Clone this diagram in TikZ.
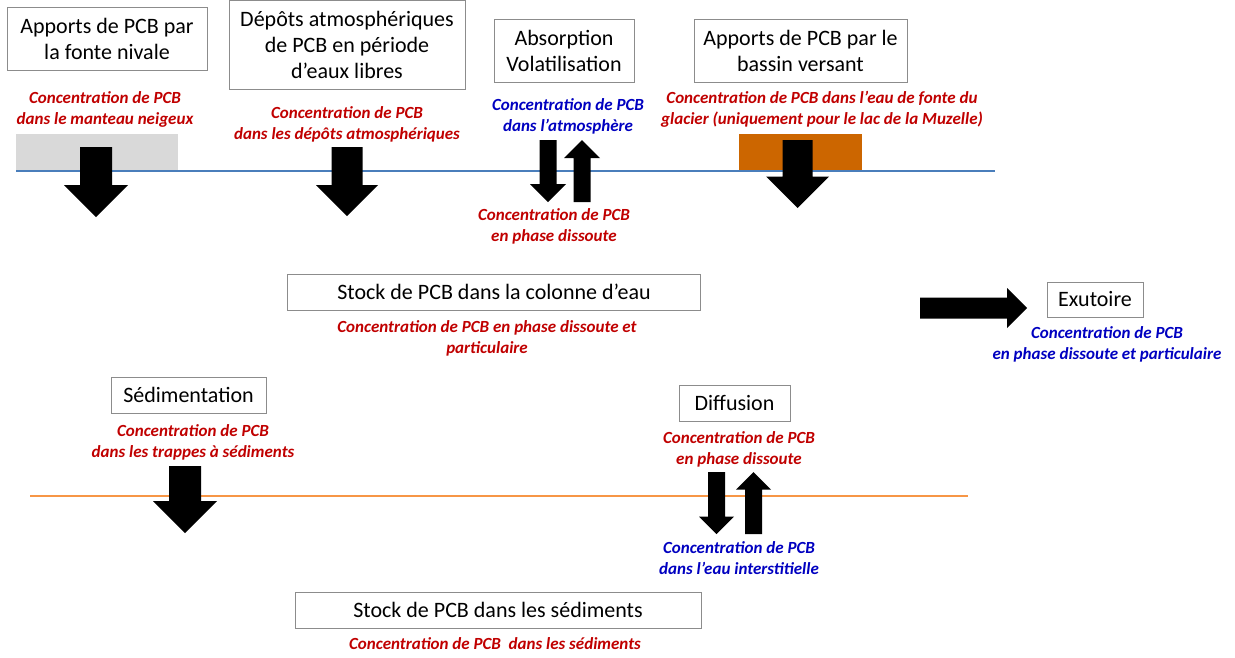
\documentclass[tikz,border=0pt]{standalone}
\usepackage{fontspec}
\setmainfont{Carlito}
\definecolor{lblred}{HTML}{C00000}
\definecolor{lblblue}{HTML}{0000C0}
\definecolor{waterline}{HTML}{4A7EBB}
\definecolor{sedline}{HTML}{F79646}
\definecolor{snowgray}{HTML}{D9D9D9}
\definecolor{glacier}{HTML}{CC6600}
\definecolor{boxgray}{HTML}{8C8C8C}
% vertical block arrow: x, y of tail, y of tip, head half-width, shaft half-width
\newcommand\blkvert[5]{%
  \pgfmathsetmacro\hl{(#3>#2) ? #4 : -#4}%
  \fill[black] ({#1-#5},#2) -- ({#1+#5},#2) -- ({#1+#5},{#3-\hl}) -- ({#1+#4},{#3-\hl})
    -- (#1,#3) -- ({#1-#4},{#3-\hl}) -- ({#1-#5},{#3-\hl}) -- cycle;}
\begin{document}
\begin{tikzpicture}[x=1pt,y=-1pt,
  procbox/.style={draw=boxgray, line width=1pt, align=center, inner sep=0pt,
    font=\fontsize{22}{26}\selectfont},
  redlbl/.style={text=lblred, align=center, inner sep=0pt, font=\fontsize{17}{21}\selectfont\bfseries\itshape},
  bluelbl/.style={redlbl, text=lblblue}]
\useasboundingbox (0,0) rectangle (1235,657);

% colored patches
\fill[snowgray] (16,134) rectangle (178,171);
\fill[glacier] (739,134) rectangle (862,171);
% interfaces
\draw[waterline, line width=2pt] (16,171) -- (995,171);
\draw[sedline, line width=2.5pt] (30,496) -- (968,496);

% boxes
\node[procbox, minimum width=200pt, minimum height=63pt] (b1) at (107,39) {Apports de PCB par\\la fonte nivale};
\node[procbox, minimum width=236pt, minimum height=89pt] (b2) at (347,45) {Dépôts atmosphériques\\de PCB en période\\d’eaux libres};
\node[procbox, minimum width=140pt, minimum height=63pt] (b3) at (564,50.5) {Absorption\\Volatilisation};
\node[procbox, minimum width=213pt, minimum height=63pt] (b4) at (800.5,50.5) {Apports de PCB par le\\bassin versant};
\node[procbox, minimum width=413pt, minimum height=36pt] (b5) at (494,292) {Stock de PCB dans la colonne d’eau};
\node[procbox, minimum width=96pt, minimum height=35pt] (b6) at (1095,299.5) {Exutoire};
\node[procbox, minimum width=155pt, minimum height=36pt] (b7) at (188.5,395) {Sédimentation};
\node[procbox, minimum width=111pt, minimum height=36pt] (b8) at (734.5,403) {Diffusion};
\node[procbox, minimum width=406pt, minimum height=36pt] (b9) at (498,610) {Stock de PCB dans les sédiments};

% labels
\node[redlbl] (l1) at (105,109) {Concentration de PCB\\dans le manteau neigeux};
\node[redlbl] (l2) at (347,124) {Concentration de PCB\\dans les dépôts atmosphériques};
\node[bluelbl] (l3) at (568,116.5) {Concentration de PCB\\dans l’atmosphère};
\node[redlbl] (l3b) at (554,226) {Concentration de PCB\\en phase dissoute};
\node[redlbl] (l4) at (822,109.5) {Concentration de PCB dans l’eau de fonte du\\glacier (uniquement pour le lac de la Muzelle)};
\node[redlbl] (l5) at (487,338.5) {Concentration de PCB en phase dissoute et\\particulaire};
\node[bluelbl] (l6) at (1107,344.5) {Concentration de PCB\\en phase dissoute et particulaire};
\node[redlbl] (l7) at (193,442) {Concentration de PCB\\dans les trappes à sédiments};
\node[redlbl] (l8) at (739,449) {Concentration de PCB\\en phase dissoute};
\node[bluelbl] (l8b) at (739,558.5) {Concentration de PCB\\dans l’eau interstitielle};
\node[redlbl] (l9) at (495,644) {Concentration de PCB\ \ dans les sédiments};

% block arrows
\blkvert{96}{147}{217}{32}{16}
\blkvert{347}{147}{216}{31}{15.5}
\blkvert{548}{140}{202}{18}{8.5}
\blkvert{582}{202}{140}{18}{8.5}
\blkvert{797.5}{140}{208}{31.5}{15}
\blkvert{185}{466}{533}{32}{16}
\blkvert{716.5}{472}{534}{17.5}{8.5}
\blkvert{753.5}{534}{472}{17.5}{8.5}
% horizontal arrow towards the outlet
\fill[black] (920,297.5) -- (1007,297.5) -- (1007,288) -- (1027,308) -- (1007,328)
  -- (1007,318.5) -- (920,318.5) -- cycle;
\end{tikzpicture}
\end{document}
